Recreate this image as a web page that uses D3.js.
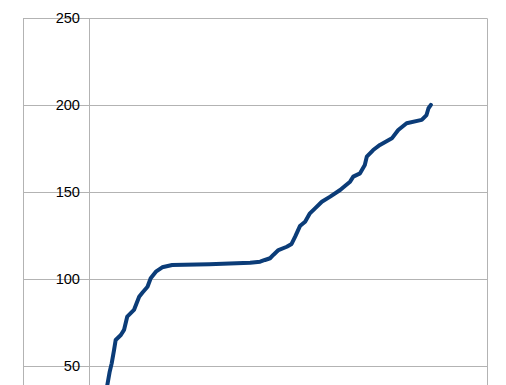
<html>
<head>
  <script src="https://d3js.org/d3.v7.min.js"></script>
  <style>
    body {
      margin: 0;
      padding: 0;
      background: white;
    }
    .tick-label {
      font-family: "Liberation Sans", Arial, sans-serif;
      font-size: 14.6px;
      fill: black;
    }
  </style>
</head>
<body>
  <div id="chart"></div>
  <script>
// rank position (0-100) and value
const xValues = [4.2, 4.6, 5.2, 5.7, 6.3, 6.7, 8.0, 8.8, 9.6, 11.3, 12.6, 13.4, 14.7, 15.5, 16.8, 18.4, 20.9, 30.2,
  40.5, 43.0, 44.2, 45.5, 46.3, 47.6, 49.7, 50.9, 51.8, 53.0, 54.3, 55.5, 56.8, 58.5, 60.6, 63.1, 64.3,
  65.6, 66.4, 68.1, 69.3, 69.8, 71.4, 73.1, 76.1, 77.7, 79.8, 83.6, 84.8, 85.3, 85.9];
const yValues = [36, 39.2, 46.9, 51.7, 59.4, 65.1, 68.0, 70.9, 78.5, 82.4, 90.0, 92.3, 95.7, 100.6, 104.4, 106.9, 108.2, 108.6,
  109.5, 110.1, 111.1, 112.1, 114.0, 116.8, 118.7, 120.3, 124.5, 130.6, 133.1, 137.9, 140.8, 144.6, 147.5, 151.3, 153.6,
  156.1, 159.0, 160.9, 165.7, 170.5, 174.3, 177.2, 181.0, 185.8, 189.7, 191.6, 194.4, 198.3, 200.2];
const yTicks = [50, 100, 150, 200, 250];

const width = 506;
const height = 385;

const svg = d3.select("#chart")
  .append("svg")
  .attr("width", width)
  .attr("height", height);

const x = d3.scaleLinear().domain([0, 100]).range([89, 487]);
const y = d3.scaleLinear().domain([0, 250]).range([453.3, 18.3]);

const gridColor = "#b3b3b3";

// horizontal grid lines
svg.selectAll("line.grid")
  .data(yTicks)
  .enter()
  .append("line")
  .attr("class", "grid")
  .attr("x1", 23)
  .attr("x2", 487)
  .attr("y1", d => Math.round(y(d)) + 0.5)
  .attr("y2", d => Math.round(y(d)) + 0.5)
  .attr("stroke", gridColor)
  .attr("stroke-width", 1);

// vertical frame lines
[23, x(0), x(100)].forEach(px => {
  svg.append("line")
    .attr("x1", Math.round(px) + 0.5)
    .attr("x2", Math.round(px) + 0.5)
    .attr("y1", y(250))
    .attr("y2", height)
    .attr("stroke", gridColor)
    .attr("stroke-width", 1);
});

// tick labels sit on top of the grid lines
svg.selectAll("text.tick-label")
  .data(yTicks)
  .enter()
  .append("text")
  .attr("class", "tick-label")
  .attr("x", 80)
  .attr("y", d => y(d))
  .attr("dy", "0.35em")
  .attr("text-anchor", "end")
  .text(d => d);

const data = xValues.map((d, i) => ({ x: d, y: yValues[i] }));

const line = d3.line()
  .x(d => x(d.x))
  .y(d => y(d.y));

svg.append("path")
  .datum(data)
  .attr("d", line)
  .attr("fill", "none")
  .attr("stroke", "#0b3c78")
  .attr("stroke-width", 4)
  .attr("stroke-linejoin", "round")
  .attr("stroke-linecap", "round");
  </script>
</body>
</html>
